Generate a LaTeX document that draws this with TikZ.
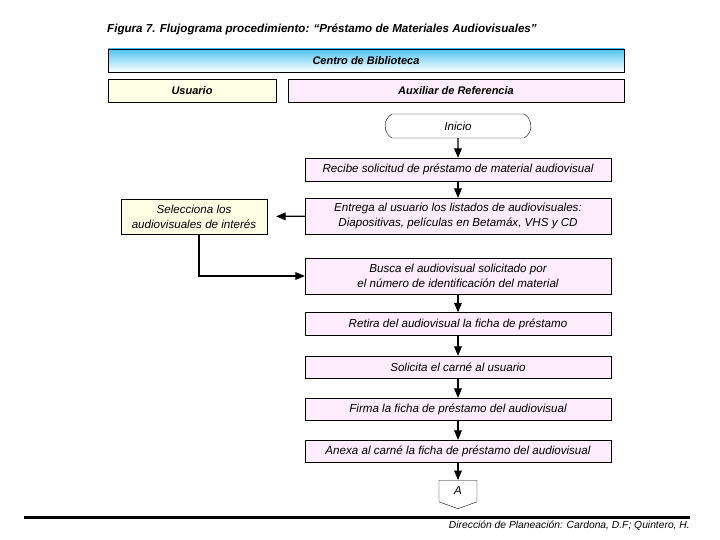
\documentclass[tikz,border=0pt]{standalone}
\usepackage{fontspec}
\setmainfont{Liberation Sans}
\usetikzlibrary{shapes.misc, shapes.symbols, arrows}
\definecolor{celeste}{RGB}{80,195,240}
\definecolor{rosa}{RGB}{252,236,252}
\definecolor{crema}{RGB}{255,255,230}
\tikzstyle{encabezado} = [rectangle, minimum height=23pt, inner sep=0pt, text centered, draw=black, font=\bfseries\itshape\fontsize{11}{13}\selectfont]
\tikzstyle{paso} = [rectangle, minimum width=306pt, minimum height=23pt, inner sep=0pt, align=center, draw=black, fill=rosa, font=\itshape\fontsize{11.6}{15}\selectfont]
\tikzstyle{flecha} = [-triangle 45, line width=1.2pt]

\begin{document}
\begin{tikzpicture}[x=1pt, y=-1pt]
        \useasboundingbox (0,0) rectangle (720,540);
        \node[anchor=west, inner sep=0pt, font=\bfseries\itshape\fontsize{11.6}{13}\selectfont] (titulo) at (107,29) {Figura 7. Flujograma procedimiento: “Préstamo de Materiales Audiovisuales”};

        \node[encabezado, minimum width=516pt, top color=celeste, bottom color=white] (centro) at (366,60.5) {Centro de Biblioteca};
        \node[encabezado, minimum width=168pt, fill=crema] (usuario) at (192,90.5) {Usuario};
        \node[encabezado, minimum width=336pt, fill=rosa] (auxiliar) at (456,90.5) {Auxiliar de Referencia};

        \node[rounded rectangle, rounded rectangle arc length=120, draw=black, minimum width=146pt, minimum height=24pt, inner sep=0pt, font=\itshape\fontsize{11.6}{13}\selectfont] (inicio) at (458,126) {Inicio};
        \node[paso] (recibe) at (458,169.5) {Recibe solicitud de préstamo de material audiovisual};
        \node[paso, minimum height=36pt] (entrega) at (458,216) {Entrega al usuario los listados de audiovisuales:\\ Diapositivas, películas en Betamáx, VHS y CD};
        \node[paso, minimum width=146pt, minimum height=35pt, fill=crema] (selecciona) at (194,216.5) {Selecciona los\\ audiovisuales de interés};
        \node[paso, minimum height=36pt] (busca) at (458,276) {Busca el audiovisual solicitado por\\ el número de identificación del material};
        \node[paso] (retira) at (458,324) {Retira del audiovisual la ficha de préstamo};
        \node[paso, minimum height=22pt] (solicita) at (458,367) {Solicita el carné al usuario};
        \node[paso, minimum height=22pt] (firma) at (458,409) {Firma la ficha de préstamo del audiovisual};
        \node[paso, minimum height=22pt] (anexa) at (458,451) {Anexa al carné la ficha de préstamo del audiovisual};
        \node[signal, signal to=south, signal from=nowhere, signal pointer angle=140, draw=black, minimum width=38pt, minimum height=23pt, inner sep=0pt, font=\itshape\fontsize{11.6}{13}\selectfont] (A) at (458,491) {A};

        \draw [flecha] (inicio) -- (recibe);
        \draw [flecha] (recibe) -- (entrega);
        \draw [flecha, shorten >=9pt] (entrega) -- (selecciona);
        \draw [flecha] ([xshift=5pt]selecciona.south) |- (busca.west);
        \draw [flecha] (busca) -- (retira);
        \draw [flecha] (retira) -- (solicita);
        \draw [flecha] (solicita) -- (firma);
        \draw [flecha] (firma) -- (anexa);
        \draw [flecha] (anexa) -- (A);

        \draw [line width=3pt] (24,517) -- (690,517);
        \node[anchor=east, inner sep=0pt, font=\itshape\fontsize{10.3}{12}\selectfont] (pie) at (690,526) {Dirección de Planeación: Cardona, D.F; Quintero, H.};
    \end{tikzpicture}
\end{document}
